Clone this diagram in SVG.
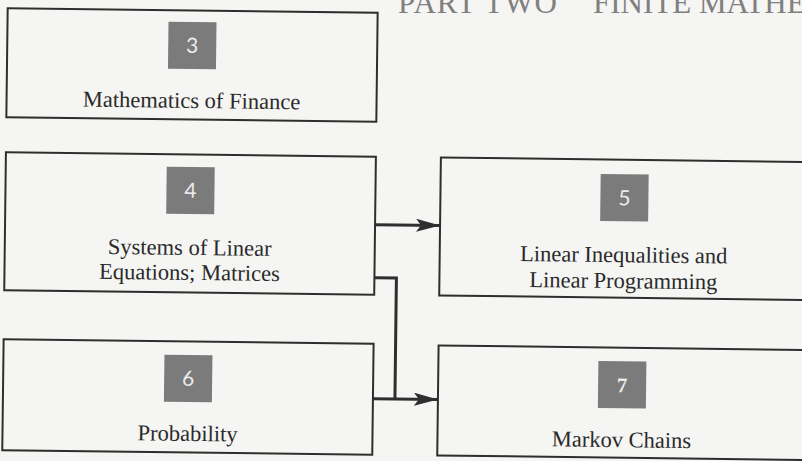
<svg xmlns="http://www.w3.org/2000/svg" width="802" height="461" viewBox="0 0 802 461">
  <defs>
    <style>
      .box { fill: none; stroke: #2e2e2e; stroke-width: 2; }
      .badge { fill: #7b7b7b; }
      .num { font-family: Lato, "Open Sans", "DejaVu Sans", sans-serif; font-size: 21px; fill: #ececec; text-anchor: middle; }
      .num7 { font-family: "Liberation Serif", serif; font-weight: bold; font-size: 21px; fill: #ececec; text-anchor: middle; }
      .lbl { font-family: "Liberation Serif", "Times New Roman", serif; font-size: 22.5px; fill: #2a2a2a; text-anchor: middle; }
      .title { font-family: "Liberation Serif", "Times New Roman", serif; font-size: 31px; fill: #808080; }
      .conn { fill: none; stroke: #2e2e2e; stroke-width: 3; }
    </style>
    <marker id="arrow" markerUnits="userSpaceOnUse" markerWidth="24" markerHeight="13" refX="24" refY="6.5" orient="auto">
      <path d="M0,0 L24,6.5 L0,13 L5,6.5 z" fill="#2e2e2e"/>
    </marker>
  </defs>
  <rect x="0" y="0" width="802" height="461" fill="#f5f5f3"/>
  <g id="title">
    <text class="title" x="398" y="13" textLength="159" lengthAdjust="spacing">PART TWO</text>
    <text class="title" x="593" y="13">FINITE MATHE</text>
  </g>
  <g transform="rotate(0.7 400 230)">
    <g id="node3">
      <rect class="box" x="5" y="13" width="370" height="109"/>
      <rect class="badge" x="166" y="24.5" width="48" height="47"/>
      <text class="num" x="190" y="55.5">3</text>
      <text class="lbl" x="190" y="110.5">Mathematics of Finance</text>
    </g>
    <g id="node4">
      <rect class="box" x="5" y="157" width="370" height="138"/>
      <rect class="badge" x="166" y="169.5" width="48" height="47"/>
      <text class="num" x="190" y="200.5">4</text>
      <text class="lbl" x="190" y="257.5">Systems of Linear</text>
      <text class="lbl" x="190" y="282.5">Equations; Matrices</text>
    </g>
    <g id="node5">
      <rect class="box" x="440" y="157" width="380" height="138"/>
      <rect class="badge" x="600" y="171.5" width="48" height="47"/>
      <text class="num" x="624" y="202.5">5</text>
      <text class="lbl" x="624" y="259.5">Linear Inequalities and</text>
      <text class="lbl" x="624" y="285.5">Linear Programming</text>
    </g>
    <g id="node6">
      <rect class="box" x="5" y="344" width="370" height="111"/>
      <rect class="badge" x="166" y="357.5" width="48" height="47"/>
      <text class="num" x="190" y="388.5">6</text>
      <text class="lbl" x="190" y="443.5">Probability</text>
    </g>
    <g id="node7">
      <rect class="box" x="440" y="345" width="380" height="110"/>
      <rect class="badge" x="600" y="358.5" width="48" height="47"/>
      <text class="num7" x="624" y="389.5">7</text>
      <text class="lbl" x="624" y="444.5">Markov Chains</text>
    </g>
    <g id="connectors">
      <path class="conn" d="M375,225 H440" marker-end="url(#arrow)"/>
      <path class="conn" d="M375,278 H397 V399"/>
      <path class="conn" d="M375,399 H440" marker-end="url(#arrow)"/>
    </g>
  </g>
</svg>
